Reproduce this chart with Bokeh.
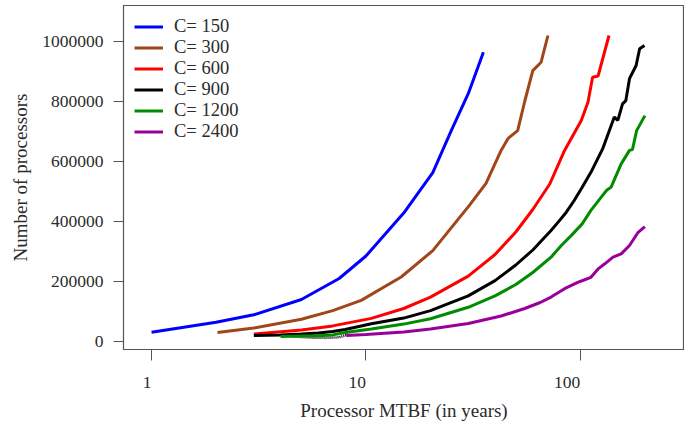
from bokeh.plotting import figure
from bokeh.models import FixedTicker, BasicTickFormatter, Range1d
from bokeh.embed import file_html
from bokeh.resources import INLINE

# ---- data ----
labels = ["C= 150", "C= 300", "C= 600", "C= 900", "C= 1200", "C= 2400"]
colors = ["#0000FF", "#A0461A", "#FF0000", "#000000", "#008B00", "#990099"]

x_c150 = [1, 2, 3, 5, 7.5, 10, 15, 20.5, 25, 30, 35.3]
y_c150 = [31000, 64000, 89000, 140000, 210000, 285000, 428000, 563000, 703000, 826000, 964000]

x_c300 = [2.03, 3, 5, 7, 9.5, 14.6, 20.5, 30.3, 36.3, 42.7, 46, 51, 55, 60, 65.6, 70.6]
y_c300 = [30000, 45000, 74000, 103000, 137000, 215000, 303000, 453000, 527000, 637000,
          677000, 703000, 800000, 903000, 931000, 1020000]

x_c600 = [3.0, 5, 7, 10.6, 15, 20, 30, 40, 50, 60, 72, 84.4, 101, 108.6, 114, 121, 128, 136]
y_c600 = [25000, 38000, 52000, 77000, 110000, 148000, 218000, 290000, 365000, 440000,
          525000, 637000, 737000, 798000, 881000, 885000, 950000, 1020000]

x_c900 = [3.0, 4, 5, 6, 7, 8, 10.6, 15, 20, 30, 40, 50, 60, 73, 78.8, 86, 93.6, 102, 112,
          127, 144, 149.5, 157.3, 163, 169.5, 182, 189, 199]
y_c900 = [20000, 22000, 25000, 28000, 33000, 40000, 59000, 78000, 103000, 152000, 203000,
          255000, 305000, 370000, 398000, 431000, 470000, 514000, 564000, 642000, 748000,
          737000, 792000, 803000, 876000, 920000, 976000, 987000]

# dotted (second) black trace visible below the green curve at small MTBF
x_c900_dot = [4.5, 5.5, 6.5, 7.5, 8.3]
y_c900_dot = [17000, 13000, 12000, 14000, 24000]

x_c1200 = [4, 5, 6, 7, 8, 10.6, 15, 20, 30, 40, 50, 60, 73, 81.5, 90.6, 102, 112, 127, 133,
           139, 155, 169.5, 175, 183, 200]
y_c1200 = [17000, 18000, 19000, 22000, 30000, 42000, 58000, 76000, 114000, 152000, 190000,
           230000, 281000, 320000, 353000, 392000, 437000, 487000, 505000, 514000, 592000,
           637000, 640000, 703000, 753000]

x_c2400 = [8.1, 10, 15, 20, 30, 42.7, 55, 65, 73, 84.4, 97.8, 104, 112, 121, 130, 142, 155,
           169.5, 186, 200]
y_c2400 = [20000, 23000, 32000, 42000, 60000, 85000, 110000, 130000, 148000, 176000, 198000,
           205000, 214000, 242000, 259000, 281000, 292000, 320000, 364000, 383000]

xs = [x_c150, x_c300, x_c600, x_c900, x_c1200, x_c2400]
ys = [y_c150, y_c300, y_c600, y_c900, y_c1200, y_c2400]

x_ticks = [1, 10, 100]
x_tick_labels = ["1", "10", "100"]
y_ticks = [0, 200000, 400000, 600000, 800000, 1000000]

FONT = "Liberation Serif"
TXT = "#2b2b2b"

p = figure(width=684, height=425, x_axis_type="log",
           x_range=Range1d(0.74, 306), y_range=Range1d(-26667, 1120000),
           output_backend="svg", toolbar_location=None,
           min_border_left=123, min_border_right=0, min_border_top=5, min_border_bottom=76)

p.line(x_c900_dot, y_c900_dot, color="#000000", line_width=2.5, line_dash="1 1")
for x, y, c, lab in zip(xs, ys, colors, labels):
    p.line(x, y, color=c, line_width=3, legend_label=lab)

p.grid.visible = False
p.outline_line_color = "#555555"
p.outline_line_width = 1.2

p.xaxis.ticker = FixedTicker(ticks=x_ticks, minor_ticks=[])
# labels sit right-aligned on their ticks in the reference (figure spaces pad the right side)
p.xaxis.major_label_overrides = {t: lab + "\u2007" * len(lab) for t, lab in zip(x_ticks, x_tick_labels)}
p.yaxis.ticker = FixedTicker(ticks=y_ticks, minor_ticks=[])
p.yaxis.formatter = BasicTickFormatter(use_scientific=False)

for ax in (p.xaxis[0], p.yaxis[0]):
    ax.axis_line_color = "#555555"
    ax.major_tick_line_color = "#555555"
    ax.major_tick_in = 0
    ax.major_label_text_font = FONT
    ax.major_label_text_font_size = "17.5px"
    ax.major_label_text_color = TXT
    ax.axis_label_text_font = FONT
    ax.axis_label_text_font_size = "19px"
    ax.axis_label_text_font_style = "normal"
    ax.axis_label_text_color = TXT

p.xaxis.major_tick_out = 11
p.xaxis.major_label_standoff = 11
p.xaxis.axis_label_standoff = 5
p.xaxis.axis_label = "Processor MTBF (in years)"

p.yaxis.major_tick_out = 10
p.yaxis.major_label_standoff = 10
p.yaxis.axis_label_standoff = 8
p.yaxis.axis_label = "Number of processors"

lg = p.legend[0]
lg.location = "top_left"
lg.margin = 0
lg.padding = 11
lg.spacing = 0
lg.glyph_width = 29
lg.glyph_height = 21
lg.label_height = 21
lg.label_standoff = 11
lg.label_text_font = FONT
lg.label_text_font_size = "18.5px"
lg.label_text_color = TXT
lg.border_line_alpha = 0
lg.background_fill_alpha = 0

open("out.html", "w").write(file_html(p, INLINE))
